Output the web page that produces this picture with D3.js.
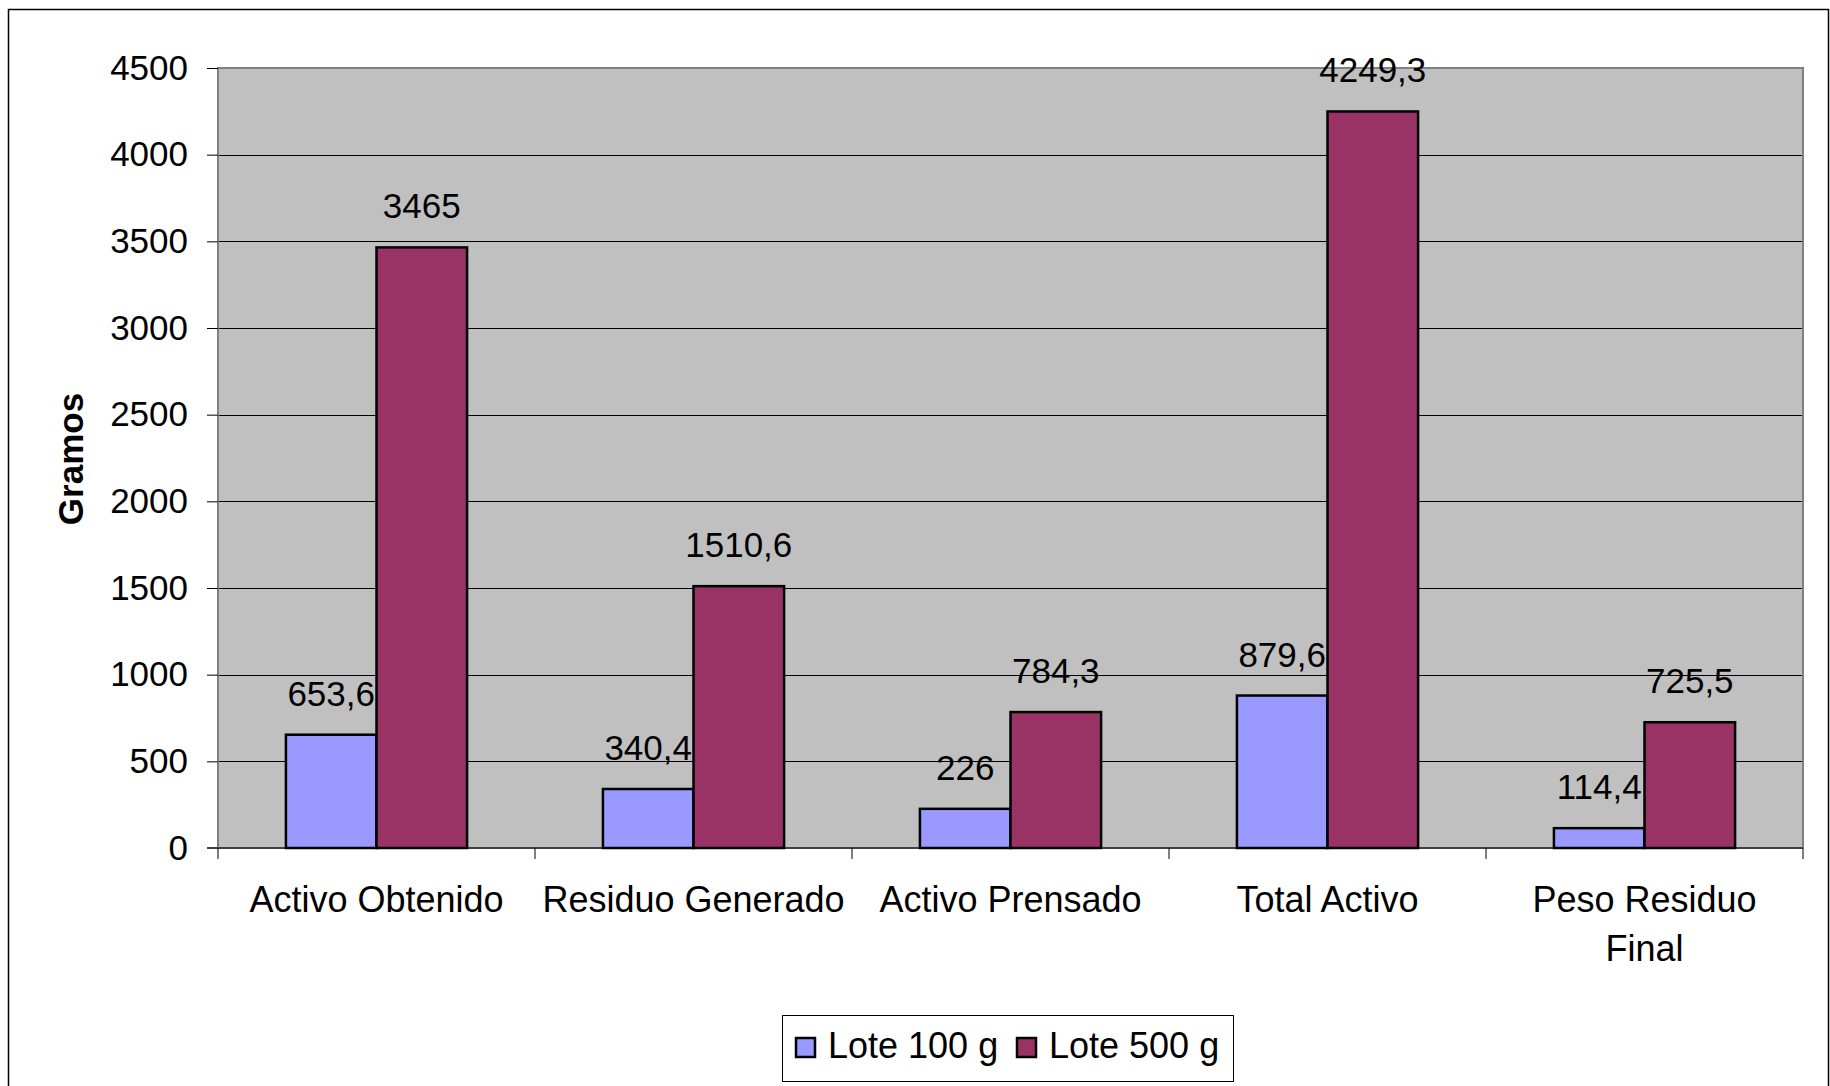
<!DOCTYPE html>
<html>
<head>
<meta charset="utf-8">
<script src="https://cdn.jsdelivr.net/npm/d3@7"></script>
<style>
  html, body { margin: 0; padding: 0; background: #fff; }
  svg { display: block; }
  text { font-family: "Liberation Sans", Arial, sans-serif; fill: #000; }
</style>
</head>
<body>
<svg id="chart" width="1830" height="1086"></svg>
<script>
const categories = [["Activo Obtenido"], ["Residuo Generado"], ["Activo Prensado"], ["Total Activo"], ["Peso Residuo", "Final"]];
const seriesNames = ["Lote 100 g", "Lote 500 g"];
const lote100 = [653.6, 340.4, 226, 879.6, 114.4];
const lote500 = [3465, 1510.6, 784.3, 4249.3, 725.5];
const yTicks = [0, 500, 1000, 1500, 2000, 2500, 3000, 3500, 4000, 4500];
const seriesColors = ["#9999FF", "#993366"];
const yTitle = "Gramos";

const svg = d3.select("#chart");
const W = 1830, H = 1086;
const plot = { left: 218, right: 1803, top: 68, bottom: 848 };

// outer border
svg.append("rect").attr("x", 8.5).attr("y", 9.5).attr("width", 1820).attr("height", 1090)
  .attr("fill", "#fff").attr("stroke", "#000").attr("stroke-width", 1.5);

const catKeys = categories.map(c => c.join(" "));
const x0 = d3.scaleBand().domain(catKeys).range([plot.left, plot.right]).paddingInner(0).paddingOuter(0);
const x1 = d3.scaleBand().domain(seriesNames).range([0, x0.bandwidth()]).paddingInner(0).paddingOuter(0.75);
const y = d3.scaleLinear().domain([0, 4500]).range([plot.bottom, plot.top]);

// plot area
svg.append("rect").attr("x", plot.left).attr("y", plot.top)
  .attr("width", plot.right - plot.left).attr("height", plot.bottom - plot.top)
  .attr("fill", "#C0C0C0");

// gridlines
svg.append("g").selectAll("line").data(yTicks.filter(t => t > 0 && t < 4500)).join("line")
  .attr("x1", plot.left).attr("x2", plot.right)
  .attr("y1", d => Math.round(y(d)) + 0.5).attr("y2", d => Math.round(y(d)) + 0.5)
  .attr("stroke", "#000").attr("stroke-width", 1);

// plot border (gray)
svg.append("path")
  .attr("d", `M${plot.left},${plot.bottom}V${plot.top}H${plot.right}V${plot.bottom}`)
  .attr("fill", "none").attr("stroke", "#808080").attr("stroke-width", 2);

// Y axis
const yAxis = d3.axisLeft(y).tickValues(yTicks).tickSize(11).tickPadding(19).tickFormat(d3.format("d"));
const gy = svg.append("g").attr("transform", `translate(${plot.left},0)`).call(yAxis);
gy.select(".domain").remove();
gy.selectAll(".tick line").attr("stroke", "#000");
gy.selectAll(".tick text").attr("font-size", 35).attr("font-family", "Liberation Sans, Arial, sans-serif").attr("fill", "#000");

// Y title
svg.append("text").attr("transform", `translate(83,459) rotate(-90)`)
  .attr("text-anchor", "middle").attr("font-size", 35).attr("font-weight", "bold").text(yTitle);

// X axis
const xBoundaries = catKeys.map(k => x0(k)).concat([plot.right]);
svg.append("line").attr("x1", plot.left - 11).attr("x2", plot.right)
  .attr("y1", plot.bottom).attr("y2", plot.bottom).attr("stroke", "#404040").attr("stroke-width", 2);
svg.append("g").selectAll("line").data(xBoundaries).join("line")
  .attr("x1", d => d).attr("x2", d => d).attr("y1", plot.bottom).attr("y2", plot.bottom + 11)
  .attr("stroke", "#000").attr("stroke-width", 1);

const xl = svg.append("g").selectAll("text").data(categories).join("text")
  .attr("text-anchor", "middle").attr("font-size", 36)
  .attr("x", (d, i) => x0(catKeys[i]) + x0.bandwidth() / 2)
  .attr("y", 912);
xl.each(function(d) {
  const t = d3.select(this);
  d.forEach((line, j) => {
    t.append("tspan").attr("x", t.attr("x")).attr("dy", j === 0 ? 0 : 48.5).text(line);
  });
});

// bars and labels
const fmt = v => String(v).replace(".", ",");
[lote100, lote500].forEach((vals, s) => {
  const g = svg.append("g");
  g.selectAll("rect").data(vals).join("rect")
    .attr("x", (d, i) => x0(catKeys[i]) + x1(seriesNames[s]))
    .attr("y", d => y(d))
    .attr("width", x1.bandwidth())
    .attr("height", d => plot.bottom - y(d))
    .attr("fill", seriesColors[s]).attr("stroke", "#000").attr("stroke-width", 2.5);
  g.selectAll("text").data(vals).join("text")
    .attr("text-anchor", "middle").attr("font-size", 35)
    .attr("x", (d, i) => x0(catKeys[i]) + x1(seriesNames[s]) + x1.bandwidth() / 2)
    .attr("y", d => y(d) - 29)
    .text(d => fmt(d));
});

// legend
const leg = svg.append("g");
leg.append("rect").attr("x", 782.5).attr("y", 1015.5).attr("width", 451).attr("height", 66)
  .attr("fill", "#fff").attr("stroke", "#000").attr("stroke-width", 1);
const legX = [795, 1016];
seriesNames.forEach((name, i) => {
  leg.append("rect").attr("x", legX[i] + 1).attr("y", 1038).attr("width", 19).attr("height", 19)
    .attr("fill", seriesColors[i]).attr("stroke", "#000").attr("stroke-width", 2.5);
  leg.append("text").attr("x", legX[i] + 33).attr("y", 1058).attr("font-size", 36).text(name);
});
</script>
</body>
</html>
